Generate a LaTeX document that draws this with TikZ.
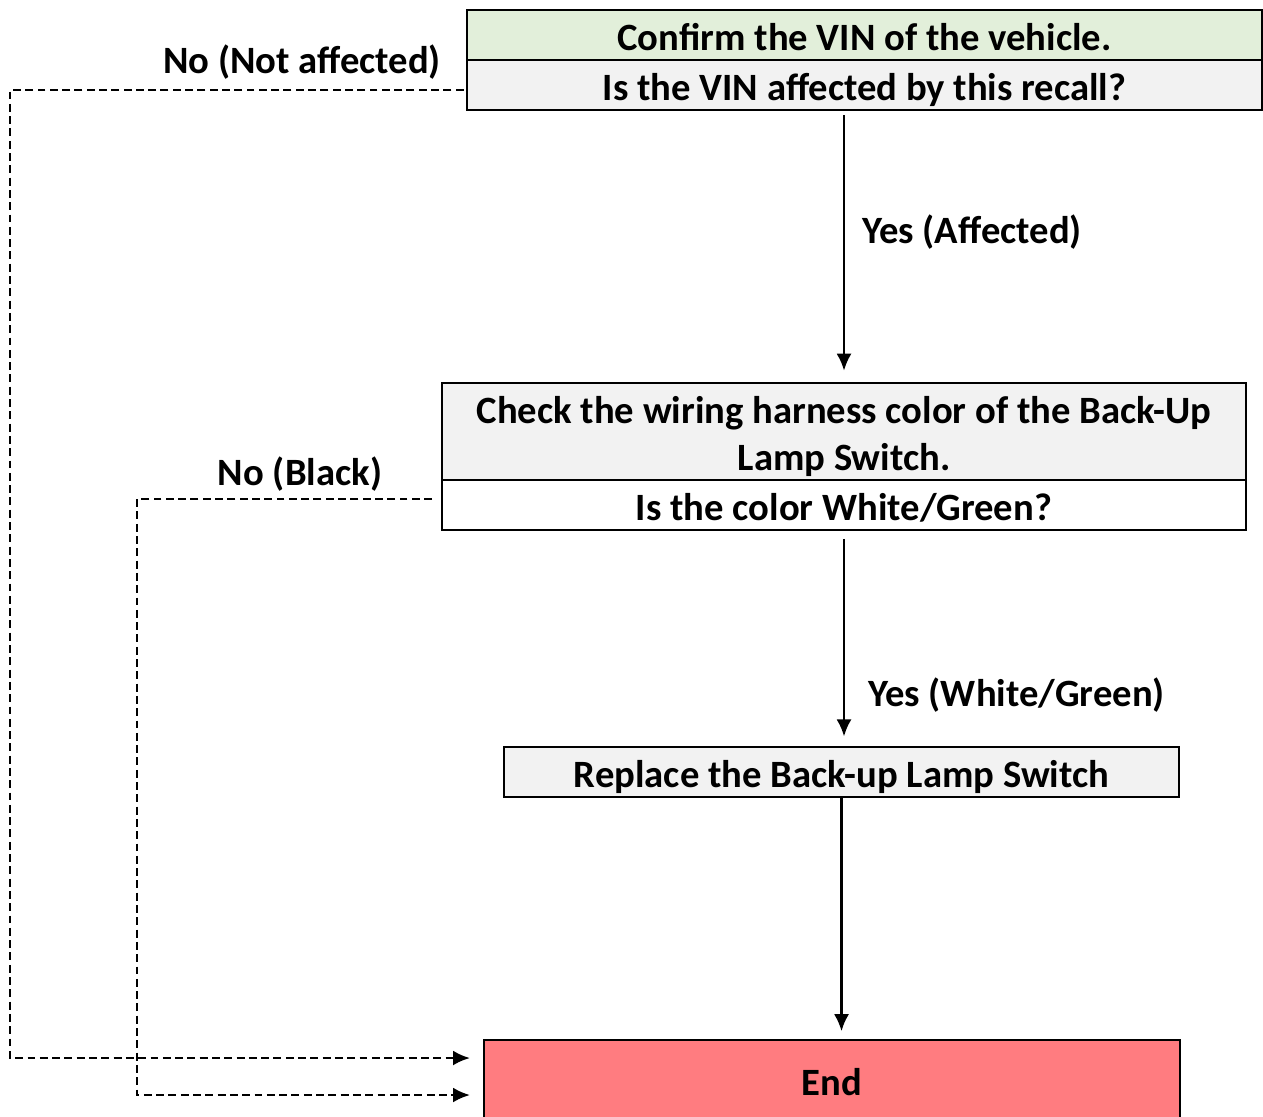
\documentclass[tikz,border=0pt]{standalone}
\usepackage{fontspec}
\setmainfont{Carlito}
\usepackage{tikz}
\usetikzlibrary{positioning,arrows.meta}
\definecolor{vingreen}{HTML}{E2EFDA}
\definecolor{boxgray}{HTML}{F2F2F2}
\definecolor{endred}{HTML}{FF7C80}
\tikzset{
  box/.style={draw, line width=1.5pt, minimum height=1cm, inner sep=0pt, outer sep=0pt,
    align=center, text height=0.62cm, text depth=0cm, font=\bfseries\fontsize{22}{27}\selectfont},
  lbl/.style={inner sep=0pt, font=\bfseries\fontsize{22}{27}\selectfont},
  arr/.style={line width=1.4pt, -{Latex[length=0.34cm,width=0.3cm]}},
  noarr/.style={arr, line width=1.5pt, dash pattern=on 4.5pt off 2.5pt},
}

\begin{document}
\begin{tikzpicture}[x=0.02cm,y=-0.02cm]
\useasboundingbox (0,0) rectangle (1263,1116);

\node[box, fill=vingreen, minimum width=15.9cm] (vin) at (864.5,35) {Confirm the VIN of the vehicle.};
\node[box, fill=boxgray, minimum width=15.9cm, below=0pt of vin] (affq) {Is the VIN affected by this recall?};

\node[box, fill=boxgray, minimum width=16.08cm, minimum height=1.94cm, text height=1.6cm, text depth=0.04cm] (check) at (844,431.5)
  {Check the wiring harness color of the Back-Up\\Lamp Switch.};
\node[box, fill=white, minimum width=16.08cm, below=0pt of check] (colorq) {Is the color White/Green?};

\node[box, fill=boxgray, minimum width=13.5cm] (replace) at (841.5,772) {Replace the Back-up Lamp Switch};
\node[box, fill=endred, minimum width=13.92cm, minimum height=1.6cm] (done) at (832,1080) {End};

\draw[arr, shorten <=3pt, shorten >=7pt] (check.north |- affq.south) -- (check.north);
\draw[arr, shorten <=5pt, shorten >=6pt] (colorq.south) -- (colorq.south |- replace.north);
\draw[arr, shorten >=5pt] (replace.south) -- (replace.south |- done.north);

\draw[noarr, shorten <=2pt, shorten >=8pt] ([yshift=-0.1cm]affq.west) -- ++(-457,0) |- ([yshift=0.44cm]done.west);
\draw[noarr, shorten <=5.7pt, shorten >=8pt] ([yshift=0.12cm]colorq.west) -- ++(-305,0) |- ([yshift=-0.3cm]done.west);

\node[lbl] (nolbl1) at (302,62) {No (Not affected)};
\node[lbl] (nolbl2) at (300,474) {No (Black)};
\node[lbl, anchor=west] (yeslbl1) at (862,232) {Yes (Affected)};
\node[lbl, anchor=west] (yeslbl2) at (868,695) {Yes (White/Green)};

\end{tikzpicture}
\end{document}
